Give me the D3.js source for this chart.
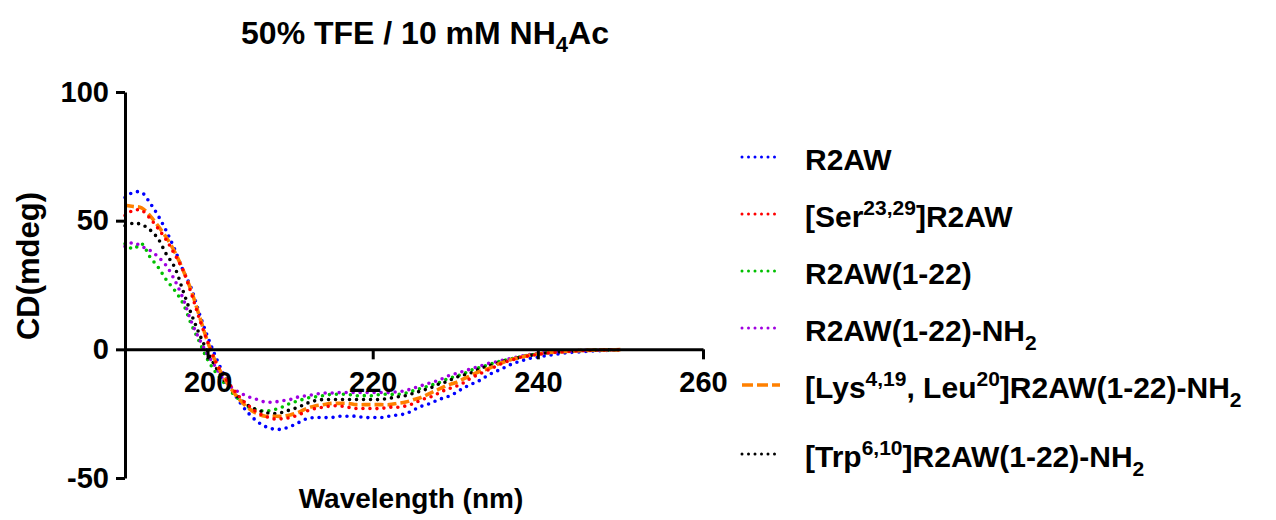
<!DOCTYPE html>
<html>
  <head>
    <meta charset="utf-8">
    <script src="https://cdn.jsdelivr.net/npm/d3@7"></script>
    <style>
      body { margin: 0; background: #fff; }
      text { font-family: "Liberation Sans", Arial, Helvetica, sans-serif; font-weight: bold; fill: #000; }
    </style>
  </head>
  <body>
    <svg id="container" width="1276" height="520"></svg>
  <script>
    // wavelengths (nm), one reading per nm
    const wavelengths = d3.range(190, 251);

    const r2aw = [59, 61, 61, 57, 52, 46, 39, 31, 24, 14, 5, -3, -10, -16, -21, -25, -28, -30, -31, -31,
      -30, -28.5, -27, -26.5, -26.5, -26.5, -26, -26, -26, -26.5, -26.5, -26.5, -26, -25.5, -25, -23.5,
      -22, -21, -19.5, -18.5, -17, -15, -13.5, -12, -10, -8.5, -7, -5.5, -4.5, -3.5, -3, -2.5, -2, -1.5,
      -1.2, -1, -0.8, -0.6, -0.5, -0.4, -0.3];
    const ser2329 = [52, 54, 54, 51, 47, 42.5, 37, 31, 22, 12, 3, -5, -10.5, -15, -19, -22, -24.5, -26, -27, -27,
      -26.5, -25.5, -24, -23, -22.5, -22, -22, -22.5, -23, -23, -23, -23, -22.5, -22.5, -22, -21,
      -19.5, -18.5, -17, -15.5, -14.5, -13, -11, -9.5, -8, -6.5, -5, -4, -3, -2.5, -2, -1.5, -1.2, -1,
      -0.8, -0.6, -0.5, -0.4, -0.3, -0.2, -0.2];
    const r2aw122 = [41, 39, 41, 36, 32, 27, 23, 18, 10, 3, -4, -9, -13, -17, -20, -22.5, -23.5, -24, -23.5, -22.5,
      -21, -20, -19, -18.5, -18, -17.5, -17.5, -17.5, -18, -18, -18, -17.5, -17.5, -17.5, -17, -16,
      -15, -14, -13, -11.5, -10.5, -9.5, -8, -7, -6, -5, -4.2, -3.5, -2.8, -2.2, -1.8, -1.4, -1.1, -0.9,
      -0.7, -0.5, -0.4, -0.3, -0.2, -0.2, -0.1];
    const r2aw122nh2 = [40, 41.5, 40, 38.5, 36, 32.5, 27, 20, 11, 4, -2, -7, -12, -15, -17, -18.5, -19.5, -20.5, -20.5, -20,
      -19.5, -18.5, -18, -17.5, -17, -17, -16.8, -16.8, -16.8, -16.8, -16.8, -16.8, -16.8, -16.5, -16, -15,
      -14, -13, -12, -10.5, -9.5, -8.5, -7.5, -6.5, -5.5, -4.8, -4, -3.3, -2.6, -2, -1.6, -1.3, -1, -0.8,
      -0.6, -0.5, -0.4, -0.3, -0.2, -0.2, -0.1];
    const lysLeu = [56, 55.5, 55, 52, 48, 43.5, 38, 31, 23, 13, 3, -5, -11, -16, -20, -23, -25, -26, -26, -26,
      -25.5, -24.5, -23, -22, -21.5, -21, -21, -21, -21.5, -21.5, -21.5, -21.5, -21.5, -21, -20.5, -19.5,
      -18.5, -17, -15.5, -14, -13, -11.5, -10, -8.5, -7.5, -6, -4.8, -3.8, -3, -2.3, -1.8, -1.4, -1.1, -0.9,
      -0.7, -0.5, -0.4, -0.3, -0.2, -0.2, -0.1];
    const trp610 = [48, 49, 48.5, 46.5, 43, 37, 32, 23, 14, 6, -1, -7, -12, -16, -19.5, -22, -23.5, -24.5, -25, -24.5,
      -23.5, -22.5, -21, -20, -19.5, -19.5, -19.5, -19.5, -19.5, -19.5, -19.5, -19.5, -19, -18.5, -18, -17,
      -16, -15, -13.5, -12.5, -11, -10, -9, -7.5, -6.5, -5.5, -4.5, -3.8, -3, -2.4, -1.8, -1.4, -1.1, -0.9,
      -0.7, -0.5, -0.4, -0.3, -0.2, -0.2, -0.1];

    // legend labels: [text, "sup"/"sub"/""]
    const seriesNames = [
      [["R2AW", ""]],
      [["[Ser", ""], ["23,29", "sup"], ["]R2AW", ""]],
      [["R2AW(1-22)", ""]],
      [["R2AW(1-22)-NH", ""], ["2", "sub"]],
      [["[Lys", ""], ["4,19", "sup"], [", Leu", ""], ["20", "sup"], ["]R2AW(1-22)-NH", ""], ["2", "sub"]],
      [["[Trp", ""], ["6,10", "sup"], ["]R2AW(1-22)-NH", ""], ["2", "sub"]]
    ];
    const seriesValues = [r2aw, ser2329, r2aw122, r2aw122nh2, lysLeu, trp610];
    const seriesColors = ["#0000ff", "#ff0000", "#00c000", "#a000e0", "#ff8000", "#000000"];
    const drawOrder = [0, 2, 3, 5, 4, 1];

    const yTicks = [-50, 0, 50, 100];
    const xTicks = [200, 220, 240, 260];

    const svg = d3.select("#container");

    const x = d3.scaleLinear().domain([190, 260]).range([125, 703]);
    const y = d3.scaleLinear().domain([-50, 100]).range([478, 92]);

    // curves
    const line = d3.line()
      .x((d, i) => x(wavelengths[i]))
      .y(d => y(d))
      .curve(d3.curveCatmullRom);

    svg.append("g").selectAll("path")
      .data(drawOrder)
      .enter()
      .append("path")
      .attr("d", i => line(seriesValues[i]))
      .attr("fill", "none")
      .attr("stroke", i => seriesColors[i])
      .attr("stroke-width", i => i === 4 ? 3.6 : 3.6)
      .attr("stroke-linecap", i => i === 4 ? "butt" : "round")
      .attr("stroke-dasharray", i => i === 4 ? "9 4" : "0 7");

    // axes
    const yAxis = d3.axisLeft(y).tickValues(yTicks).tickFormat(d => String(d))
      .tickSize(9).tickSizeOuter(0).tickPadding(7);
    const xAxis = d3.axisBottom(x).tickValues(xTicks).tickFormat(d => String(d))
      .tickSize(10).tickSizeOuter(0).tickPadding(12);

    const gy = svg.append("g").attr("transform", `translate(${x(190)},0)`).call(yAxis);
    const gx = svg.append("g").attr("transform", `translate(0,${y(0)})`).call(xAxis);

    [gx, gy].forEach(g => {
      g.select(".domain").attr("stroke", "#000").attr("stroke-width", 3);
      g.selectAll(".tick line").attr("stroke", "#000").attr("stroke-width", 3);
      g.selectAll(".tick text")
        .style("font-family", '"Liberation Sans", Arial, sans-serif')
        .style("font-weight", "bold")
        .style("font-size", "29px")
        .attr("fill", "#000");
    });

    // title
    const title = svg.append("text")
      .attr("x", 425)
      .attr("y", 44)
      .attr("text-anchor", "middle")
      .style("font-size", "32px");
    title.append("tspan").text("50% TFE / 10 mM NH");
    title.append("tspan").attr("dy", 8).style("font-size", "22px").text("4");
    title.append("tspan").attr("dy", -8).text("Ac");

    // axis titles
    svg.append("text")
      .attr("x", 411)
      .attr("y", 508)
      .attr("text-anchor", "middle")
      .style("font-size", "28px")
      .text("Wavelength (nm)");

    svg.append("text")
      .attr("transform", "translate(39,266) rotate(-90)")
      .attr("text-anchor", "middle")
      .style("font-size", "31px")
      .text("CD(mdeg)");

    // legend
    const legend = svg.append("g");
    seriesNames.forEach((parts, i) => {
      const base = 170 + i * 57 + (i === 5 ? 12 : 0);
      legend.append("line")
        .attr("x1", 742).attr("x2", 780)
        .attr("y1", base - 13).attr("y2", base - 13)
        .attr("stroke", seriesColors[i])
        .attr("stroke-width", i === 4 ? 3.5 : 3)
        .attr("stroke-linecap", i === 4 ? "butt" : "round")
        .attr("stroke-dasharray", i === 4 ? "11 4" : "0 6.5");

      const t = legend.append("text")
        .attr("x", 805)
        .attr("y", base)
        .style("font-size", "30px");
      let shift = 0;
      parts.forEach(([txt, kind]) => {
        const target = kind === "sup" ? -12 : kind === "sub" ? 9 : 0;
        t.append("tspan")
          .attr("dy", target - shift)
          .style("font-size", kind ? "21px" : "30px")
          .text(txt);
        shift = target;
      });
    });
  </script>
  </body>
</html>
